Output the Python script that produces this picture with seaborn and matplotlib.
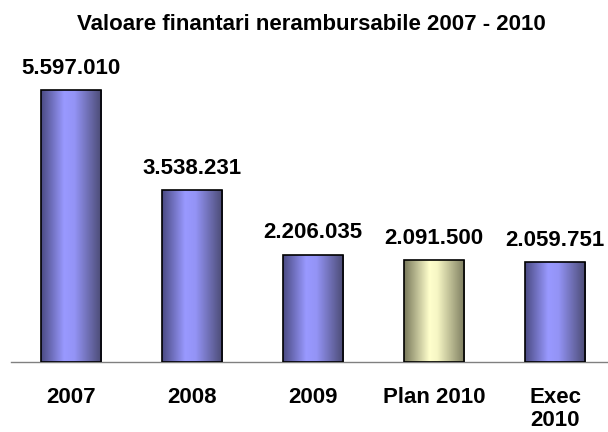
import matplotlib
matplotlib.use("Agg")
import matplotlib.pyplot as plt
import seaborn as sns
import numpy as np
from matplotlib.colors import LinearSegmentedColormap

categories = ["2007", "2008", "2009", "Plan 2010", "Exec 2010"]
tick_labels = ["2007", "2008", "2009", "Plan 2010", "Exec\n2010"]
values = [5597010, 3538231, 2206035, 2091500, 2059751]
value_labels = ["5.597.010", "3.538.231", "2.206.035", "2.091.500", "2.059.751"]
title = "Valoare finantari nerambursabile 2007 - 2010"

sns.set_theme(style="white")
plt.rcParams["font.family"] = ["Liberation Sans", "DejaVu Sans"]
plt.rcParams["font.weight"] = "bold"

W, H = 608, 432
fig = plt.figure(figsize=(W / 100, H / 100), dpi=100)
fig.patch.set_facecolor("white")

left_px, right_px = 10.7, 615.7
base_px = 362.0
ymax = 6.6e6
px_per_unit = 48.6e-6
ax_h_px = ymax * px_per_unit
ax = fig.add_axes([left_px / W, (H - base_px) / H, (right_px - left_px) / W, ax_h_px / H])

blue = "#9999ff"
yellow = "#ffffcc"
palette = [blue, blue, blue, yellow, blue]
sns.barplot(x=categories, y=values, hue=categories, palette=palette, legend=False,
            width=0.5, edgecolor="black", linewidth=1.2, ax=ax, saturation=1)

ax.set_xlim(-0.5, 4.5)
ax.set_ylim(0, ymax)

cmap_blue = LinearSegmentedColormap.from_list(
    "b", [(0, "#4a4a82"), (0.38, "#9999ff"), (0.55, "#9494f6"), (1, "#4a4a72")])
cmap_yel = LinearSegmentedColormap.from_list(
    "y", [(0, "#78785a"), (0.42, "#ffffcc"), (0.55, "#f6f6c4"), (1, "#7c7c5e")])
grad = np.linspace(0, 1, 256).reshape(1, -1)
for p, col in zip(ax.patches, palette):
    x0, y0 = p.get_x(), p.get_y()
    w, h = p.get_width(), p.get_height()
    cm = cmap_yel if col == yellow else cmap_blue
    im = ax.imshow(grad, cmap=cm, aspect="auto", extent=(x0, x0 + w, y0, y0 + h),
                   zorder=2, interpolation="bilinear")
    im.set_clip_path(p)
    p.set_facecolor("none")
    p.set_zorder(3)
ax.set_xlim(-0.5, 4.5)
ax.set_ylim(0, ymax)

for i, (v, lab) in enumerate(zip(values, value_labels)):
    ax.annotate(lab, xy=(i, v), xytext=(0, 11.8), textcoords="offset points",
                ha="center", va="baseline", fontsize=16, fontweight="bold", color="black")

for s in ["top", "right", "left"]:
    ax.spines[s].set_visible(False)
ax.spines["bottom"].set_color("#808080")
ax.spines["bottom"].set_linewidth(1.0)
ax.set_yticks([])
ax.set_ylabel("")
ax.set_xlabel("")
ax.set_xticks(range(len(categories)))
ax.set_xticklabels(tick_labels, fontsize=16, fontweight="bold", linespacing=1.15)
ax.tick_params(axis="x", which="major", length=0, pad=18, colors="black")
ax.set_xticks(np.arange(-0.5, 5, 1), minor=True)
ax.tick_params(axis="x", which="minor", length=5.8, width=1.0, color="#808080", direction="out")
ax.grid(False)

fig.text(311 / W, 1 - 30 / H, title, ha="center", va="baseline",
         fontsize=16, fontweight="bold", color="black")

fig.savefig("out.png", dpi=100, facecolor="white")
